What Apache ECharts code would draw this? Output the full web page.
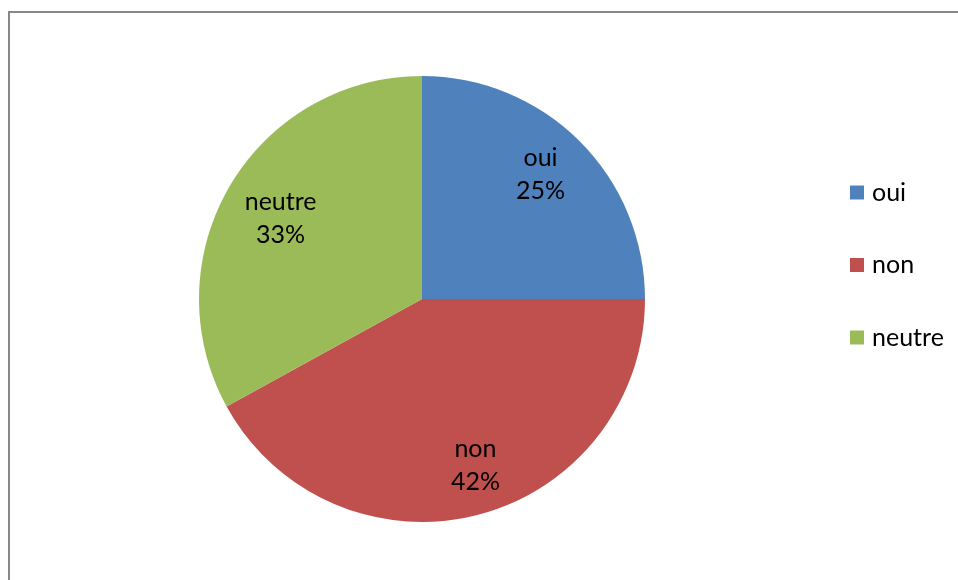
<!DOCTYPE html>
<html>
<head>
<meta charset="utf-8">
<script src="https://cdn.jsdelivr.net/npm/echarts@6/dist/echarts.min.js"></script>
<style>
html,body{margin:0;padding:0;background:#fff;}
#chart{width:958px;height:580px;}
</style>
</head>
<body>
<div id="chart"></div>
<script>
const categories = ['oui', 'non', 'neutre'];
const values = [25, 42, 33];
const colors = ['#4F81BD', '#C0504D', '#9BBB59'];
const labelOffsets = [[-5, -1], [10, -3], [9, 8]];

const data = categories.map((c, i) => ({ name: c, value: values[i], itemStyle: { color: colors[i] } }));
const fontFamily = 'Lato, "Open Sans", sans-serif';
const center = [422, 299];
const R = 223;

const chart = echarts.init(document.getElementById('chart'), null, { renderer: 'canvas' });
chart.setOption({
  backgroundColor: '#fff',
  animation: false,
  graphic: [{
    type: 'polyline',
    shape: { points: [[9, 580], [9, 12], [958, 12]] },
    style: { stroke: '#888888', lineWidth: 2, fill: null },
    silent: true
  }],
  legend: {
    orient: 'vertical',
    left: 850,
    top: 180,
    padding: 0,
    itemWidth: 14,
    itemHeight: 14,
    itemGap: 47.5,
    icon: 'rect',
    data: categories,
    textStyle: { fontSize: 25, color: '#000', fontFamily: fontFamily, lineHeight: 25, padding: [0, 0, 0, 3] }
  },
  series: [{
    type: 'pie',
    center: center,
    radius: [0, R],
    startAngle: 90,
    clockwise: true,
    data: data,
    label: { show: false },
    labelLine: { show: false },
    itemStyle: { borderWidth: 0 },
    emphasis: { disabled: true }
  }, {
    type: 'pie',
    center: center,
    radius: [R * 0.54, R],
    startAngle: 90,
    clockwise: true,
    silent: true,
    legendHoverLink: false,
    data: categories.map((c, i) => ({
      name: c, value: values[i],
      itemStyle: { color: 'rgba(0,0,0,0)' },
      label: { offset: labelOffsets[i] }
    })),
    itemStyle: { borderWidth: 0 },
    label: {
      show: true,
      position: 'inside',
      formatter: p => p.name + '\n' + p.value + '%',
      fontSize: 25,
      lineHeight: 33,
      color: '#000',
      fontFamily: fontFamily
    },
    labelLine: { show: false },
    emphasis: { disabled: true }
  }]
});
</script>
</body>
</html>
